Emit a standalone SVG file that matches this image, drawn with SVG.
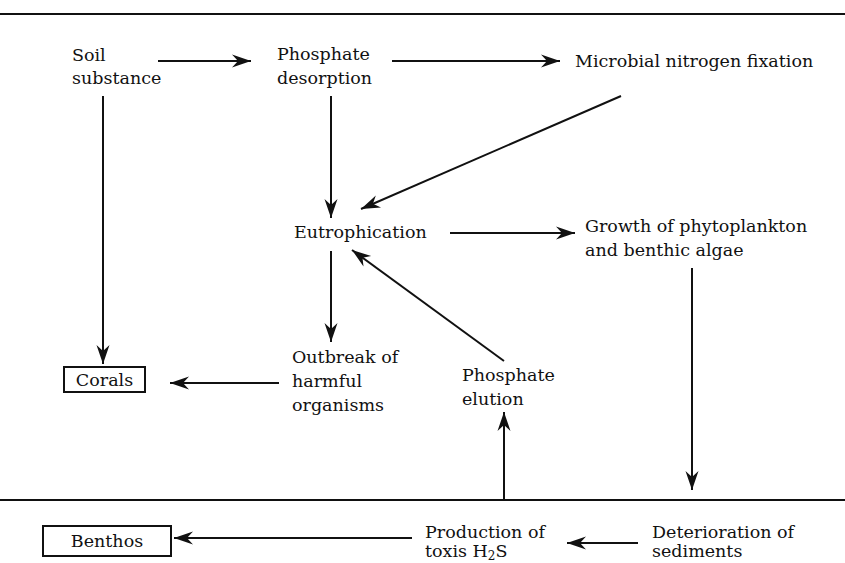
<svg xmlns="http://www.w3.org/2000/svg" width="845" height="563" viewBox="0 0 845 563">
<style>
text{font-family:"DejaVu Serif","Liberation Serif",serif;font-size:17.5px;fill:#111}
.ln{stroke:#111;stroke-width:2;fill:none}
.cn{stroke:#111;stroke-width:2;fill:none;marker-end:url(#ah)}
.box{fill:#fff;stroke:#111;stroke-width:2}
</style>
<defs>
<marker id="ah" markerUnits="userSpaceOnUse" markerWidth="22" markerHeight="16" viewBox="-20 -8 22 16" refX="0" refY="0" orient="auto">
<path d="M0,0 L-19,-6.5 L-13,0 L-19,6.5 Z" fill="#111"/>
</marker>
</defs>
<g id="frame">
<line class="ln" x1="0" y1="14" x2="845" y2="14"/>
<line class="ln" x1="0" y1="500" x2="845" y2="500"/>
</g>
<g id="connectors">
<line class="cn" x1="158" y1="61" x2="251" y2="61"/>
<line class="cn" x1="392" y1="61" x2="560" y2="61"/>
<line class="cn" x1="103" y1="96" x2="103" y2="364"/>
<line class="cn" x1="331" y1="96" x2="331" y2="218"/>
<line class="cn" x1="621" y1="96" x2="361" y2="209"/>
<line class="cn" x1="450" y1="233" x2="575" y2="233"/>
<line class="cn" x1="331" y1="251" x2="331" y2="342"/>
<line class="cn" x1="279" y1="383" x2="170" y2="383"/>
<line class="cn" x1="504" y1="361" x2="352" y2="250"/>
<line class="cn" x1="504" y1="500" x2="504" y2="412"/>
<line class="cn" x1="692" y1="268" x2="692" y2="490"/>
<line class="cn" x1="638" y1="543" x2="567" y2="543"/>
<line class="cn" x1="412" y1="538" x2="174" y2="538"/>
</g>
<g id="soil"><text x="72" y="61">Soil</text><text x="72" y="84">substance</text></g>
<g id="desorption"><text x="277" y="60">Phosphate</text><text x="277" y="84">desorption</text></g>
<g id="fixation"><text x="575" y="67">Microbial nitrogen fixation</text></g>
<g id="eutrophication"><text x="294" y="238">Eutrophication</text></g>
<g id="growth"><text x="585" y="232">Growth of phytoplankton</text><text x="585" y="256">and benthic algae</text></g>
<g id="outbreak"><text x="292" y="363">Outbreak of</text><text x="292" y="387">harmful</text><text x="292" y="411">organisms</text></g>
<g id="elution"><text x="462" y="381">Phosphate</text><text x="462" y="405">elution</text></g>
<g id="corals"><rect class="box" x="64" y="367" width="81" height="25"/><text x="104.5" y="386" text-anchor="middle">Corals</text></g>
<g id="benthos"><rect class="box" x="43" y="526" width="128" height="30"/><text x="107" y="547" text-anchor="middle">Benthos</text></g>
<g id="h2s"><text x="425" y="538">Production of</text><text x="425" y="557">toxis H<tspan font-size="12" dy="3">2</tspan><tspan dy="-3">S</tspan></text></g>
<g id="sediments"><text x="652" y="538">Deterioration of</text><text x="652" y="557">sediments</text></g>
</svg>
